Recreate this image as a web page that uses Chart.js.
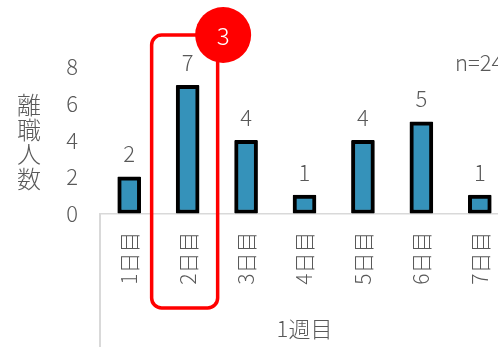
<!DOCTYPE html>
<html>
<head>
<meta charset="utf-8">
<script src="https://cdn.jsdelivr.net/npm/chart.js@4"></script>
<style>
  html, body { margin: 0; padding: 0; background: #fff; overflow: hidden; }
  #wrap { width: 498px; height: 347px; overflow: hidden; }
</style>
</head>
<body>
<div id="wrap"><canvas id="myChart" width="523" height="347"></canvas></div>
<script>
const days = ['1日目', '2日目', '3日目', '4日目', '5日目', '6日目', '7日目'];
const leavers = [2, 7, 4, 1, 4, 5, 1];
const weekLabel = '1週目';
const yTitle = ['離', '職', '人', '数'];
const highlightIndex = 1;
const highlightBadge = '3';
const sampleNote = 'n=24';

const FONT = "'Noto Sans CJK JP', 'Noto Sans', sans-serif";
const GRAY = '#595959';

const extras = {
    id: 'extras',
    afterDatasetsDraw(chart) {
        const ctx = chart.ctx;
        const area = chart.chartArea;
        const meta = chart.getDatasetMeta(0);
        ctx.save();

        // divider under the axis
        ctx.strokeStyle = '#d9d9d9';
        ctx.lineWidth = 2;
        ctx.beginPath();
        ctx.moveTo(area.left, area.bottom);
        ctx.lineTo(area.left, chart.height);
        ctx.stroke();

        // value labels
        ctx.fillStyle = GRAY;
        ctx.font = '300 22px ' + FONT;
        ctx.textAlign = 'center';
        ctx.textBaseline = 'middle';
        meta.data.forEach((bar, i) => {
            ctx.fillText(String(leavers[i]), bar.x, bar.y - 23);
        });

        // y title, stacked upright
        ctx.font = '300 24px ' + FONT;
        yTitle.forEach((ch, i) => {
            ctx.fillText(ch, 29, 105 + i * 24.5);
        });

        // n note
        ctx.font = '300 22px ' + FONT;
        ctx.textAlign = 'left';
        ctx.fillText(sampleNote, 455, 63);

        // highlight box
        const cx = chart.scales.x.getPixelForValue(highlightIndex);
        ctx.strokeStyle = '#ff0000';
        ctx.lineWidth = 3.5;
        ctx.beginPath();
        ctx.roundRect(cx - 36, 35, 66, 273, 10);
        ctx.stroke();

        ctx.fillStyle = '#ff0000';
        ctx.beginPath();
        ctx.arc(cx + 35.5, 35, 28, 0, Math.PI * 2);
        ctx.fill();
        ctx.fillStyle = '#ffffff';
        ctx.font = '300 24px ' + FONT;
        ctx.textAlign = 'center';
        ctx.fillText(highlightBadge, cx + 35.5, 36);

        ctx.restore();
    }
};

new Chart(document.getElementById('myChart'), {
    type: 'bar',
    data: {
        labels: days,
        datasets: [{
            data: leavers,
            backgroundColor: '#3592ba',
            borderColor: '#000000',
            borderWidth: 4,
            borderSkipped: false,
            borderRadius: 1,
            barThickness: 23
        }]
    },
    options: {
        responsive: false,
        animation: false,
        layout: { padding: { top: 67, left: 0, right: 0, bottom: 0 } },
        plugins: {
            legend: { display: false },
            tooltip: { enabled: false }
        },
        scales: {
            x: {
                grid: { display: false, drawTicks: false },
                border: { display: true, color: '#d9d9d9', width: 1.5 },
                ticks: {
                    color: GRAY,
                    font: { family: FONT, size: 21, weight: '300' },
                    minRotation: 90,
                    maxRotation: 90,
                    padding: 18,
                    autoSkip: false
                },
                title: {
                    display: true,
                    text: weekLabel,
                    color: GRAY,
                    font: { family: FONT, size: 22, weight: '300' },
                    padding: { top: 0, bottom: 5 }
                },
                afterFit(scale) { scale.height = 133.5; }
            },
            y: {
                min: 0,
                max: 8,
                grid: { display: false, drawTicks: false },
                border: { display: false },
                ticks: {
                    stepSize: 2,
                    color: GRAY,
                    font: { family: FONT, size: 22, weight: '300' },
                    padding: 22
                },
                afterFit(scale) { scale.width = 100; }
            }
        }
    },
    plugins: [extras]
});
</script>
</body>
</html>
